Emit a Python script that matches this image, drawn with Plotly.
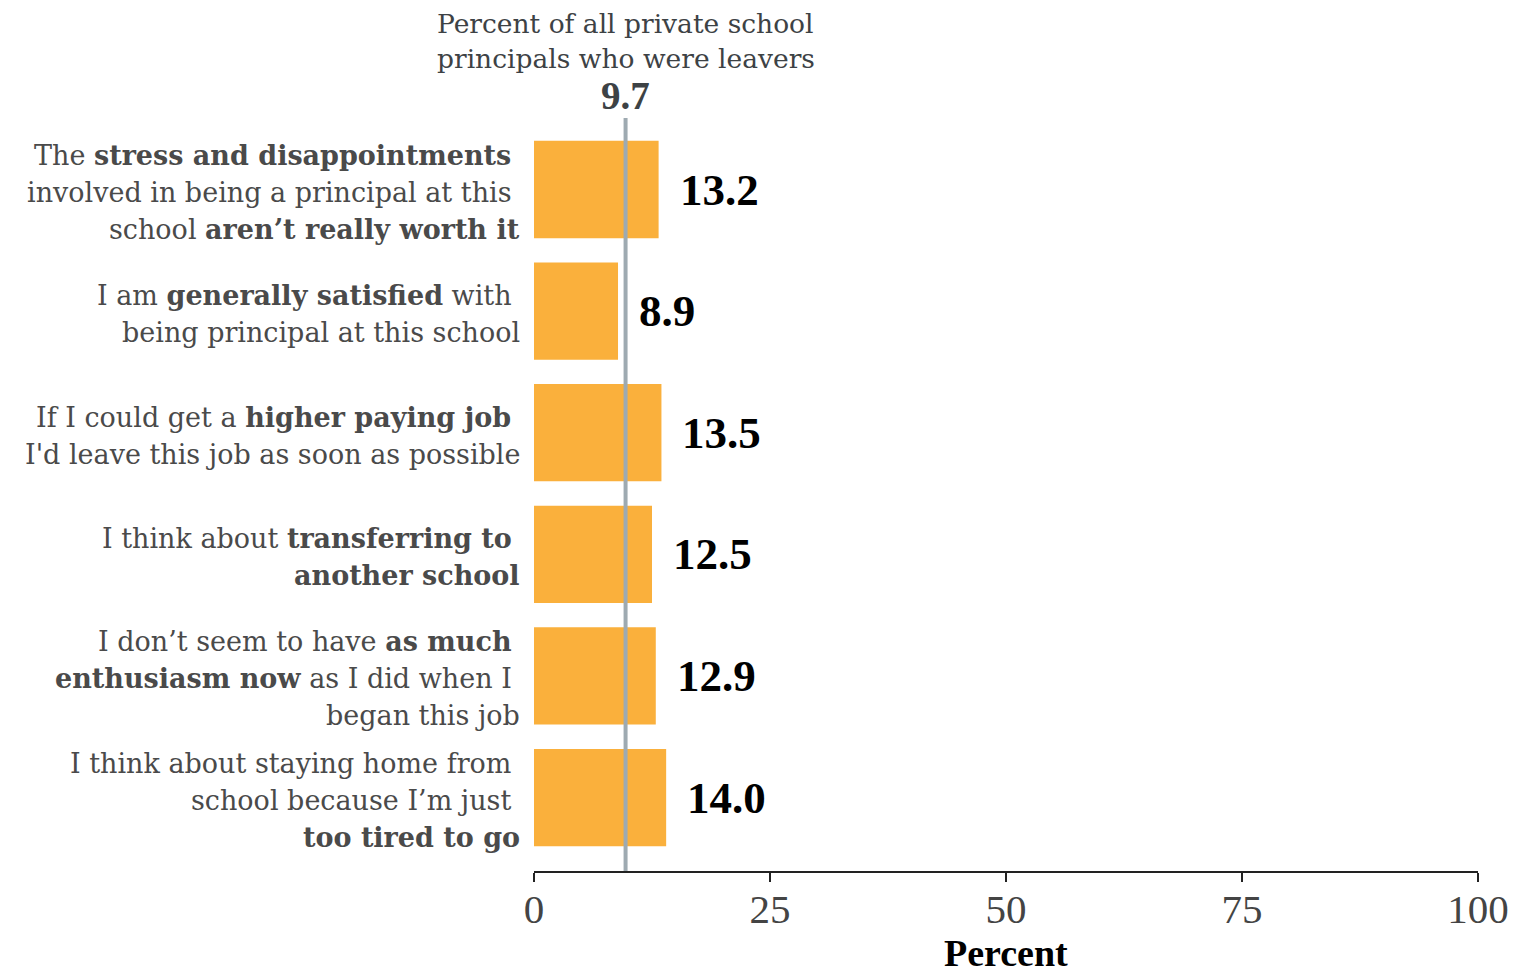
import plotly.graph_objects as go

# ---- data ----
categories = [
    "stress and disappointments",
    "generally satisfied",
    "higher paying job",
    "transferring",
    "enthusiasm",
    "too tired",
]
label_lines = [
    ["The <b>stress and disappointments</b>\u00a0", "involved in being a principal at this\u00a0", "school <b>aren\u2019t really worth it</b>"],
    ["I am <b>generally satisfied</b> with\u00a0", "being principal at this school"],
    ["If I could get a <b>higher paying job</b>\u00a0", "I'd leave this job as soon as possible"],
    ["I think about <b>transferring to</b>\u00a0", "<b>another school</b>"],
    ["I don\u2019t seem to have <b>as much</b>\u00a0", "<b>enthusiasm now</b> as I did when I\u00a0", "began this job"],
    ["I think about staying home from\u00a0", "school because I\u2019m just\u00a0", "<b>too tired to go</b>"],
]
values = [13.2, 8.9, 13.5, 12.5, 12.9, 14.0]
reference_value = 9.7
reference_lines = ["Percent of all private school", "principals who were leavers"]
x_ticks = [0, 25, 50, 75, 100]
x_title = "Percent"

TEXT_FONT = "DejaVu Serif"
NUM_FONT = "Liberation Serif"
BAR_COLOR = "#FAB03C"
LINE_COLOR = "#9EAAB1"
TEXT_COLOR = "#4a4a4a"

fig = go.Figure()
fig.add_trace(go.Bar(
    x=values, y=categories, orientation="h",
    marker=dict(color=BAR_COLOR, line=dict(width=0)),
    hoverinfo="skip", showlegend=False,
))

annotations = []
# value labels
for c, v in zip(categories, values):
    annotations.append(dict(
        x=v, y=c, xref="x", yref="y", text=f"<b>{v:.1f}</b>", showarrow=False,
        xanchor="left", yanchor="middle", xshift=19, yshift=0,
        font=dict(family=NUM_FONT, size=45, color="#000000"),
    ))
# category labels, one line each
LINE_H = 37
for c, lines in zip(categories, label_lines):
    n = len(lines)
    for j, t in enumerate(lines):
        annotations.append(dict(
            x=0, y=c, xref="paper", yref="y", text=t, showarrow=False,
            xanchor="right", yanchor="middle", xshift=-12,
            yshift=((n - 1) / 2 - j) * LINE_H - 3,
            font=dict(family=TEXT_FONT, size=27, color=TEXT_COLOR),
        ))
# reference label
for j, t in enumerate(reference_lines):
    annotations.append(dict(
        x=reference_value, y=1, xref="x", yref="paper", text=t, showarrow=False,
        xanchor="center", yanchor="middle", yshift=95 - j * 35,
        font=dict(family=TEXT_FONT, size=26.5, color="#3d4245"),
    ))
annotations.append(dict(
    x=reference_value, y=1, xref="x", yref="paper", text=f"<b>{reference_value}</b>",
    showarrow=False, xanchor="center", yanchor="middle", yshift=23,
    font=dict(family=NUM_FONT, size=39, color="#3d4245"),
))
# x-axis title
annotations.append(dict(
    x=0.5, y=0, xref="paper", yref="paper", text=f"<b>{x_title}</b>", showarrow=False,
    xanchor="center", yanchor="middle", yshift=-82,
    font=dict(family=NUM_FONT, size=38, color="#000000"),
))

fig.add_shape(type="line", x0=reference_value, x1=reference_value, y0=0, y1=1,
              xref="x", yref="paper", line=dict(color=LINE_COLOR, width=4), layer="above")

fig.update_layout(
    width=1514, height=973,
    margin=dict(l=534, r=36, t=118, b=102, autoexpand=False),
    paper_bgcolor="white", plot_bgcolor="white",
    bargap=0.2,
    annotations=annotations,
    xaxis=dict(
        range=[0, 100], tickvals=x_ticks, ticktext=[str(t) for t in x_ticks],
        automargin=False,
        showgrid=False, zeroline=False, showline=True, linecolor="#222222", linewidth=2,
        ticks="outside", ticklen=9, tickwidth=1.5, tickcolor="#222222",
        ticklabelstandoff=-8,
        tickfont=dict(family=NUM_FONT, size=41, color="#444444"),
        fixedrange=True,
    ),
    yaxis=dict(
        categoryorder="array", categoryarray=categories,
        autorange=False, range=[5.604, -0.588], automargin=False,
        showticklabels=False, showgrid=False, zeroline=False, showline=False, ticks="",
        fixedrange=True,
    ),
)

fig.write_html("out.html")
